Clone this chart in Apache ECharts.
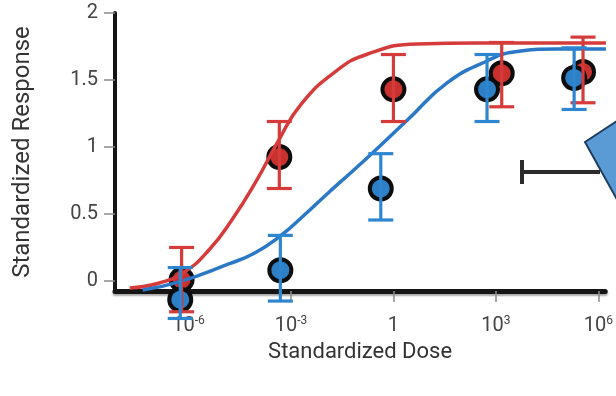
<!DOCTYPE html>
<html>
<head>
<meta charset="utf-8">
<script src="https://cdn.jsdelivr.net/npm/echarts@6/dist/echarts.min.js"></script>
<style>
  html, body { margin: 0; padding: 0; background: #fff; }
  #chart { width: 616px; height: 396px; }
</style>
</head>
<body>
<div id="chart"></div>
<script>
// Dose is stored as log10(dose); responses are standardized.
const xTickExps = [-6, -3, 0, 3, 6];
const yTicks = [0, 0.5, 1, 1.5, 2];

// Group A (red): measured means with error bar limits
const redLogDose = [-6.2, -3.34, 0.0, 3.17, 5.55];
const redMean    = [0.01, 0.925, 1.43, 1.55, 1.56];
const redHigh    = [0.25, 1.19, 1.69, 1.78, 1.82];
const redLow     = [-0.23, 0.69, 1.19, 1.30, 1.33];

// Group B (blue): measured means with error bar limits
const blueLogDose = [-6.24, -3.31, -0.37, 2.74, 5.29];
const blueMean    = [-0.14, 0.08, 0.69, 1.43, 1.515];
const blueHigh    = [0.10, 0.34, 0.95, 1.69, 1.74];
const blueLow     = [-0.28, -0.15, 0.455, 1.19, 1.28];

// Fitted dose-response curves, sampled along log10(dose)
const redFitDose  = [-7.72, -6.85, -6.12, -5.40, -4.73, -4.03, -3.36, -2.70, -1.71, -0.75, 0.70, 2.45, 6.22];
const redFitResp  = [-0.052, -0.015, 0.067, 0.231, 0.455, 0.739, 1.05, 1.32, 1.56, 1.694, 1.769, 1.776, 1.776];
const blueFitDose = [-7.34, -6.27, -4.82, -4.06, -3.31, -2.64, -1.91, -1.19, -0.55, 0.41, 1.57, 2.74, 3.52, 4.77, 6.22];
const blueFitResp = [-0.067, -0.007, 0.127, 0.209, 0.336, 0.485, 0.657, 0.821, 0.97, 1.201, 1.478, 1.642, 1.709, 1.731, 1.731];

const RED_FILL = '#c8312d', RED_LINE = '#d63b3b';
const BLUE_FILL = '#2d7fc6', BLUE_LINE = '#2f86d0', BLUE_CURVE = '#2a78c6';

const zip = (a, b) => a.map((v, i) => [v, b[i]]);
const zip3 = (a, b, c) => a.map((v, i) => [v, b[i], c[i]]);

function errorBars(color) {
  return function (params, api) {
    const x = api.value(0);
    const hi = api.coord([x, api.value(1)]);
    const lo = api.coord([x, api.value(2)]);
    const half = 12.5;
    const style = { stroke: color, lineWidth: 3.2, fill: null };
    return {
      type: 'group',
      children: [
        { type: 'line', shape: { x1: hi[0], y1: hi[1], x2: lo[0], y2: lo[1] }, style },
        { type: 'line', shape: { x1: hi[0] - half, y1: hi[1], x2: hi[0] + half, y2: hi[1] }, style },
        { type: 'line', shape: { x1: lo[0] - half, y1: lo[1], x2: lo[0] + half, y2: lo[1] }, style }
      ]
    };
  };
}

const chart = echarts.init(document.getElementById('chart'), null, { renderer: 'canvas' });

chart.setOption({
  animation: false,
  backgroundColor: '#fff',
  textStyle: { fontFamily: 'Roboto' },
  grid: { left: 115, right: 6, top: 13, bottom: 105, containLabel: false },
  xAxis: {
    type: 'value',
    min: -8.15,
    max: 6.2,
    name: 'Standardized Dose',
    nameLocation: 'middle',
    nameGap: 50,
    nameTextStyle: { fontSize: 22, color: '#333', fontFamily: 'Roboto' },
    splitLine: { show: false },
    axisLine: {
      onZero: false,
      lineStyle: { color: '#151515', width: 5, shadowColor: 'rgba(0,0,0,0.35)', shadowOffsetY: 2, shadowBlur: 2 }
    },
    axisTick: { show: true, length: 11, customValues: xTickExps, lineStyle: { color: '#8a8a8a', width: 1.5 } },
    axisLabel: {
      customValues: xTickExps,
      margin: 24,
      color: '#444',
      formatter: v => (v === 0 ? '{b|1}' : '{b|10}{s|' + v + '}'),
      rich: {
        b: { fontSize: 20, color: '#444', fontFamily: 'Roboto', lineHeight: 22 },
        s: { fontSize: 12, color: '#444', fontFamily: 'Roboto', verticalAlign: 'top', lineHeight: 22 }
      }
    }
  },
  yAxis: {
    type: 'value',
    min: -0.075,
    max: 2,
    name: 'Standardized Response',
    nameLocation: 'middle',
    nameGap: 80,
    nameTextStyle: { fontSize: 24, color: '#333', fontFamily: 'Roboto' },
    splitLine: { show: false },
    axisLine: { show: true, onZero: false, lineStyle: { color: '#151515', width: 4 } },
    axisTick: { show: true, length: 11, customValues: yTicks, lineStyle: { color: '#8a8a8a', width: 1.5 } },
    axisLabel: {
      customValues: yTicks,
      margin: 17,
      fontSize: 20,
      color: '#444',
      fontFamily: 'Roboto',
      formatter: v => String(v)
    }
  },
  series: [
    {
      name: 'A points', type: 'scatter', z: 2, clip: false,
      data: zip(redLogDose, redMean),
      symbol: 'circle', symbolSize: 22,
      itemStyle: { color: RED_FILL, borderColor: '#0d0d0d', borderWidth: 4, opacity: 1 }
    },
    {
      name: 'B points', type: 'scatter', z: 2, clip: false,
      data: zip(blueLogDose, blueMean),
      symbol: 'circle', symbolSize: 22,
      itemStyle: { color: BLUE_FILL, borderColor: '#0d0d0d', borderWidth: 4, opacity: 1 }
    },
    {
      name: 'A fit', type: 'line', z: 3, smooth: 0.5,
      showSymbol: false, symbol: 'none',
      data: zip(redFitDose, redFitResp),
      lineStyle: { color: RED_LINE, width: 3.5 }
    },
    {
      name: 'B fit', type: 'line', z: 3, smooth: 0.5,
      showSymbol: false, symbol: 'none',
      data: zip(blueFitDose, blueFitResp),
      lineStyle: { color: BLUE_CURVE, width: 3.5 }
    },
    {
      name: 'A error', type: 'custom', z: 4, clip: false,
      renderItem: errorBars(RED_LINE),
      encode: { x: 0, y: [1, 2] },
      data: zip3(redLogDose, redHigh, redLow)
    },
    {
      name: 'B error', type: 'custom', z: 4, clip: false,
      renderItem: errorBars(BLUE_LINE),
      encode: { x: 0, y: [1, 2] },
      data: zip3(blueLogDose, blueHigh, blueLow)
    }
  ],
  graphic: [
    {
      type: 'polyline', z: 10,
      shape: { points: [[522, 172], [600, 172]] },
      style: { stroke: '#2b2b2b', lineWidth: 4, fill: null }
    },
    {
      type: 'line', z: 10,
      shape: { x1: 522, y1: 160, x2: 522, y2: 184 },
      style: { stroke: '#2b2b2b', lineWidth: 4 }
    },
    {
      type: 'polygon', z: 11,
      shape: { points: [[585, 142], [620, 119], [620, 205]] },
      style: { fill: '#5b9bd5', stroke: '#1f3d5c', lineWidth: 2 }
    }
  ]
});
</script>
</body>
</html>
